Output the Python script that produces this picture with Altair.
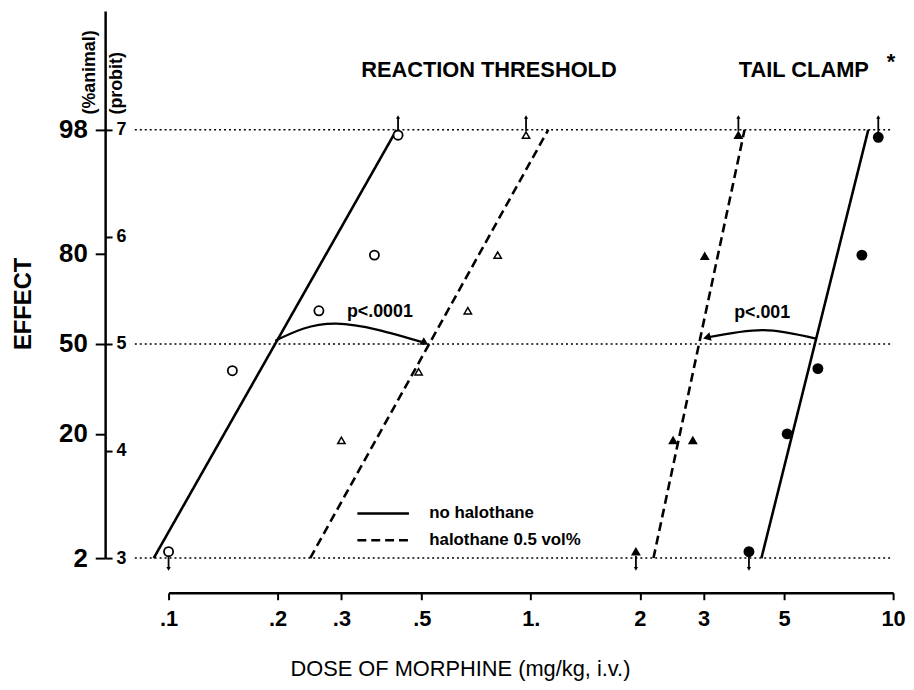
import altair as alt
import pandas as pd

# ---------------- data ----------------
# fitted probit regression lines (endpoints at probit 3 and 7)
line_series = ["RT no", "RT no", "RT halo", "RT halo", "TC halo", "TC halo", "TC no", "TC no"]
line_cond = ["no halothane", "no halothane",
             "halothane 0.5 vol%", "halothane 0.5 vol%",
             "halothane 0.5 vol%", "halothane 0.5 vol%",
             "no halothane", "no halothane"]
line_dose = [0.091, 0.426, 0.246, 1.117, 2.18, 3.89, 4.33, 8.54]
line_probit = [3, 7, 3, 7, 3, 7, 3, 7]

# observed points
pt_group = ["RT no"] * 5 + ["RT halo"] * 5 + ["TC halo"] * 5 + ["TC no"] * 5
pt_dose = [0.10, 0.15, 0.26, 0.37, 0.43,
           0.30, 0.49, 0.67, 0.81, 0.97,
           1.95, 2.47, 2.80, 3.02, 3.74,
           4.0, 5.1, 6.2, 8.2, 9.1]
pt_probit = [3.06, 4.75, 5.31, 5.83, 6.95,
             4.10, 4.74, 5.31, 5.83, 6.95,
             3.06, 4.10, 4.10, 5.82, 6.95,
             3.06, 4.16, 4.77, 5.83, 6.93]

# censored points (arrows: >98 % or <2 %)
cens_dose = [0.43, 0.97, 3.74, 9.1, 0.10, 1.95, 4.0]
cens_from = [6.99, 6.99, 6.99, 6.97, 3.02, 3.02, 3.02]
cens_to = [7.12, 7.12, 7.12, 7.12, 2.9, 2.9, 2.9]
cens_dir = ["up", "up", "up", "up", "down", "down", "down"]

# dotted reference levels (98 %, 50 %, 2 %)
ref_probit = [7, 5, 3]
ref_from = [0.0807, 0.0807, 0.0807]
ref_to = [10, 10, 10]

# curved shift arrows
arc_id = ["a1", "a1", "a1", "a2", "a2", "a2"]
arc_dose = [0.197, 0.29, 0.51, 6.12, 4.38, 3.06]
arc_probit = [5.03, 5.19, 5.01, 5.05, 5.13, 5.06]
head_dose = [0.51, 3.06]
head_probit = [5.01, 5.06]
head_angle = [30, 165]

# annotations
title_text = ["REACTION THRESHOLD", "TAIL CLAMP"]
title_dose = [0.766, 5.67]
title_probit = [7.56, 7.56]
star_text = ["*"]
star_dose = [9.87]
star_probit = [7.63]
pval_text = ["p<.0001", "p<.001"]
pval_dose = [0.383, 4.35]
pval_probit = [5.30, 5.29]

# axis ticks
x_ticks = [0.1, 0.2, 0.3, 0.5, 1, 2, 3, 5, 10]
x_labels = [".1", ".2", ".3", ".5", "1.", "2", "3", "5", "10"]
pct_ticks = [7, 5.84, 5, 4.16, 3]
pct_labels = ["98", "80", "50", "20", "2"]
probit_ticks = [3, 4, 5, 6, 7]

# ---------------- helpers ----------------
def label_expr(vals, labs):
    pairs = sorted(zip(vals, labs))
    expr = "'" + pairs[-1][1] + "'"
    for i in range(len(pairs) - 2, -1, -1):
        v0, v1 = pairs[i][0], pairs[i + 1][0]
        mid = (v0 * v1) ** 0.5 if v0 > 0 else (v0 + v1) / 2
        expr = f"datum.value < {mid:.5f} ? '{pairs[i][1]}' : ({expr})"
    return expr


FONT = "Liberation Sans"
W, H = 731, 552

x_scale = alt.Scale(type="log", domain=[0.1, 10], nice=False)
y_scale = alt.Scale(domain=[3, 8.11], nice=False, zero=False)

x_axis = alt.Axis(
    orient="bottom", offset=35, values=x_ticks,
    labelExpr=label_expr(x_ticks, x_labels),
    domainColor="black", domainWidth=2.5,
    tickColor="black", tickWidth=2, tickSize=7,
    labelFont=FONT, labelFontSize=22, labelFontWeight="bold", labelColor="black",
    labelPadding=9, labelFlush=False, labelOverlap=False, grid=False,
    title="DOSE OF MORPHINE (mg/kg, i.v.)", titleFont=FONT, titleFontSize=22,
    titleFontWeight="normal", titleColor="black",
    titleX=294, titleY=76, titleAlign="center", titleBaseline="middle",
)

pct_axis = alt.Axis(
    orient="left", offset=64, values=pct_ticks,
    labelExpr=label_expr(pct_ticks, pct_labels),
    domainColor="black", domainWidth=2.5,
    tickColor="black", tickWidth=2, tickSize=10,
    labelFont=FONT, labelFontSize=26, labelFontWeight="bold", labelColor="black",
    labelPadding=8, labelOverlap=False, labelBaseline="middle", grid=False,
    title="(%animal)", titleFont=FONT, titleFontSize=18, titleFontWeight="bold",
    titleColor="black", titleAngle=270, titleAlign="left", titleBaseline="middle",
    titleX=-16, titleY=104,
)

probit_axis = alt.Axis(
    orient="right", offset=-(W + 64), values=probit_ticks, format="d",
    domain=False, tickColor="black", tickWidth=2, tickSize=7,
    labelFont=FONT, labelFontSize=18, labelFontWeight="bold", labelColor="black",
    labelPadding=4, labelOverlap=False, labelBaseline="middle", grid=False,
    title="(probit)", titleFont=FONT, titleFontSize=18, titleFontWeight="bold",
    titleColor="black", titleAngle=270, titleAlign="left", titleBaseline="middle",
    titleX=12, titleY=104,
)

effect_axis = alt.Axis(
    orient="left", offset=64, domain=False, ticks=False, labels=False, grid=False,
    title="EFFECT", titleFont=FONT, titleFontSize=24, titleFontWeight="bold",
    titleColor="black", titleAngle=270, titleAlign="center", titleBaseline="middle",
    titleX=-82, titleY=295,
)


def X(field):
    return alt.X(field, type="quantitative", scale=x_scale, axis=x_axis)


def Y(field, axis=None):
    return alt.Y(field, type="quantitative", scale=y_scale, axis=axis)


# ---------------- layers ----------------
ref_df = pd.DataFrame({"p": ref_probit, "x0": ref_from, "x1": ref_to})
ref_layer = alt.Chart(ref_df).mark_rule(
    color="black", strokeWidth=1.5, strokeDash=[2, 3]
).encode(x=X("x0"), x2="x1", y=Y("p", probit_axis))

line_df = pd.DataFrame({"series": line_series, "cond": line_cond,
                        "dose": line_dose, "p": line_probit})
line_layer = alt.Chart(line_df).mark_line(color="black", strokeWidth=2.6).encode(
    x=X("dose"), y=Y("p", pct_axis), detail="series:N",
    strokeDash=alt.StrokeDash(
        "cond:N",
        scale=alt.Scale(domain=["no halothane", "halothane 0.5 vol%"],
                        range=[[1, 0], [9, 5]]),
        legend=alt.Legend(
            orient="none", legendX=189, legendY=497, title=None, padding=0,
            symbolType="stroke", symbolSize=2704, symbolStrokeWidth=2.5,
            symbolStrokeColor="black", clipHeight=20, rowPadding=7,
            labelOffset=19, labelFont=FONT, labelFontSize=17,
            labelFontWeight="bold", labelColor="black",
        ),
    ),
)

pt_df = pd.DataFrame({"group": pt_group, "dose": pt_dose, "p": pt_probit})
groups = ["RT no", "RT halo", "TC halo", "TC no"]
circle_df = pt_df[pt_df["group"].isin(["RT no", "TC no"])]
tri_df = pt_df[pt_df["group"].isin(["RT halo", "TC halo"])]
fill_scale = alt.Scale(domain=groups, range=["white", "white", "black", "black"])

circle_layer = alt.Chart(circle_df).mark_point(
    shape="circle", filled=True, stroke="black", strokeWidth=1.8,
    opacity=1, fillOpacity=1, size=85
).encode(x=X("dose"), y=Y("p"),
         fill=alt.Fill("group:N", scale=fill_scale, legend=None))

tri_layer = alt.Chart(tri_df).mark_point(
    shape="triangle-up", filled=True, stroke="black", strokeWidth=1.5,
    opacity=1, fillOpacity=1, size=55
).encode(x=X("dose"), y=Y("p"),
         fill=alt.Fill("group:N", scale=fill_scale, legend=None))

cens_df = pd.DataFrame({"dose": cens_dose, "p0": cens_from, "p1": cens_to, "dir": cens_dir})
stem_layer = alt.Chart(cens_df).mark_rule(color="black", strokeWidth=1.8).encode(
    x=X("dose"), y=Y("p0"), y2="p1")
tip_layer = alt.Chart(cens_df).mark_point(
    filled=True, color="black", size=18, opacity=1
).encode(
    x=X("dose"), y=Y("p1"),
    shape=alt.Shape("dir:N", scale=alt.Scale(domain=["up", "down"],
                                             range=["triangle-up", "triangle-down"]),
                    legend=None),
)

arc_df = pd.DataFrame({"id": arc_id, "dose": arc_dose, "p": arc_probit,
                       "o": list(range(len(arc_id)))})
arc_layer = alt.Chart(arc_df).mark_line(
    color="black", strokeWidth=2.2, interpolate="natural"
).encode(x=X("dose"), y=Y("p"), detail="id:N", order="o:Q")

head_df = pd.DataFrame({"dose": head_dose, "p": head_probit, "angle": head_angle})
head_layer = alt.Chart(head_df).mark_point(
    shape="triangle-right", filled=True, color="black", size=80, opacity=1
).encode(x=X("dose"), y=Y("p"), angle=alt.Angle("angle:Q", scale=None))

title_df = pd.DataFrame({"t": title_text, "dose": title_dose, "p": title_probit})
title_layer = alt.Chart(title_df).mark_text(
    font=FONT, fontSize=22, fontWeight="bold", color="black"
).encode(x=X("dose"), y=Y("p", effect_axis), text="t:N")

star_df = pd.DataFrame({"t": star_text, "dose": star_dose, "p": star_probit})
star_layer = alt.Chart(star_df).mark_text(
    font=FONT, fontSize=22, fontWeight="bold", color="black"
).encode(x=X("dose"), y=Y("p"), text="t:N")

pval_df = pd.DataFrame({"t": pval_text, "dose": pval_dose, "p": pval_probit})
pval_layer = alt.Chart(pval_df).mark_text(
    font=FONT, fontSize=18, fontWeight="bold", color="black"
).encode(x=X("dose"), y=Y("p"), text="t:N")

chart = alt.layer(
    ref_layer, line_layer, circle_layer, tri_layer, stem_layer, tip_layer,
    arc_layer, head_layer, title_layer, star_layer, pval_layer,
).resolve_axis(y="independent").properties(
    width=W, height=H,
    padding={"left": 4, "top": 0, "right": 0, "bottom": 0},
    background="white",
).configure_view(stroke=None)

chart.save("out.html", embed_options={"renderer": "svg", "actions": False})
